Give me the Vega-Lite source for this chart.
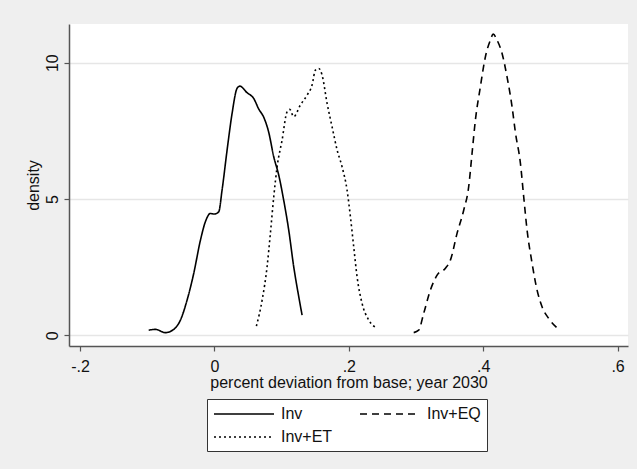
{
  "$schema": "https://vega.github.io/schema/vega-lite/v6.json",
  "width": 559,
  "height": 322,
  "autosize": {"type": "none"},
  "padding": {"left": 69, "top": 24, "right": 9, "bottom": 123},
  "background": "#efefef",
  "config": {
    "view": {"fill": "white", "stroke": null},
    "font": "Liberation Sans",
    "axis": {
      "domainColor": "#555555",
      "domainWidth": 1.5,
      "tickColor": "#555555",
      "tickWidth": 1.2,
      "tickSize": 5,
      "labelFont": "Liberation Sans",
      "labelFontSize": 16,
      "labelColor": "#111111",
      "titleFont": "Liberation Sans",
      "titleFontSize": 16,
      "titleFontWeight": "normal",
      "titleColor": "#111111",
      "gridColor": "#e6e6e6",
      "gridWidth": 1.5
    }
  },
  "data": {
    "values": [
      {"s": "Inv", "x": -0.0978, "y": 0.19},
      {"s": "Inv", "x": -0.0878, "y": 0.22},
      {"s": "Inv", "x": -0.0729, "y": 0.10},
      {"s": "Inv", "x": -0.0605, "y": 0.22},
      {"s": "Inv", "x": -0.0506, "y": 0.56},
      {"s": "Inv", "x": -0.0407, "y": 1.29},
      {"s": "Inv", "x": -0.0308, "y": 2.27},
      {"s": "Inv", "x": -0.0208, "y": 3.49},
      {"s": "Inv", "x": -0.0134, "y": 4.17},
      {"s": "Inv", "x": -0.0060, "y": 4.47},
      {"s": "Inv", "x": 0.0, "y": 4.45},
      {"s": "Inv", "x": 0.0064, "y": 4.53},
      {"s": "Inv", "x": 0.0114, "y": 5.33},
      {"s": "Inv", "x": 0.0189, "y": 6.80},
      {"s": "Inv", "x": 0.0263, "y": 8.14},
      {"s": "Inv", "x": 0.0337, "y": 9.06},
      {"s": "Inv", "x": 0.0377, "y": 9.14},
      {"s": "Inv", "x": 0.0486, "y": 8.90},
      {"s": "Inv", "x": 0.0585, "y": 8.69},
      {"s": "Inv", "x": 0.0660, "y": 8.30},
      {"s": "Inv", "x": 0.0734, "y": 8.00},
      {"s": "Inv", "x": 0.0808, "y": 7.45},
      {"s": "Inv", "x": 0.0883, "y": 6.55},
      {"s": "Inv", "x": 0.0957, "y": 5.88},
      {"s": "Inv", "x": 0.1031, "y": 4.96},
      {"s": "Inv", "x": 0.1106, "y": 3.86},
      {"s": "Inv", "x": 0.1180, "y": 2.52},
      {"s": "Inv", "x": 0.1255, "y": 1.42},
      {"s": "Inv", "x": 0.1305, "y": 0.74},
      {"s": "Inv+ET", "x": 0.0625, "y": 0.34},
      {"s": "Inv+ET", "x": 0.0710, "y": 1.29},
      {"s": "Inv+ET", "x": 0.0784, "y": 2.52},
      {"s": "Inv+ET", "x": 0.0833, "y": 3.74},
      {"s": "Inv+ET", "x": 0.0883, "y": 5.08},
      {"s": "Inv+ET", "x": 0.0933, "y": 6.18},
      {"s": "Inv+ET", "x": 0.1007, "y": 7.16},
      {"s": "Inv+ET", "x": 0.1081, "y": 8.20},
      {"s": "Inv+ET", "x": 0.1121, "y": 8.29},
      {"s": "Inv+ET", "x": 0.1180, "y": 8.02},
      {"s": "Inv+ET", "x": 0.1280, "y": 8.45},
      {"s": "Inv+ET", "x": 0.1379, "y": 8.81},
      {"s": "Inv+ET", "x": 0.1453, "y": 9.18},
      {"s": "Inv+ET", "x": 0.1503, "y": 9.73},
      {"s": "Inv+ET", "x": 0.1553, "y": 9.79},
      {"s": "Inv+ET", "x": 0.1602, "y": 9.55},
      {"s": "Inv+ET", "x": 0.1677, "y": 8.51},
      {"s": "Inv+ET", "x": 0.1751, "y": 7.65},
      {"s": "Inv+ET", "x": 0.1826, "y": 6.80},
      {"s": "Inv+ET", "x": 0.1900, "y": 6.18},
      {"s": "Inv+ET", "x": 0.1974, "y": 5.33},
      {"s": "Inv+ET", "x": 0.2024, "y": 4.35},
      {"s": "Inv+ET", "x": 0.2073, "y": 3.25},
      {"s": "Inv+ET", "x": 0.2123, "y": 2.15},
      {"s": "Inv+ET", "x": 0.2198, "y": 1.17},
      {"s": "Inv+ET", "x": 0.2297, "y": 0.56},
      {"s": "Inv+ET", "x": 0.2421, "y": 0.26},
      {"s": "Inv+EQ", "x": 0.2966, "y": 0.10},
      {"s": "Inv+EQ", "x": 0.3040, "y": 0.19},
      {"s": "Inv+EQ", "x": 0.3115, "y": 0.81},
      {"s": "Inv+EQ", "x": 0.3214, "y": 1.66},
      {"s": "Inv+EQ", "x": 0.3314, "y": 2.21},
      {"s": "Inv+EQ", "x": 0.3438, "y": 2.46},
      {"s": "Inv+EQ", "x": 0.3512, "y": 2.76},
      {"s": "Inv+EQ", "x": 0.3611, "y": 3.74},
      {"s": "Inv+EQ", "x": 0.3710, "y": 4.59},
      {"s": "Inv+EQ", "x": 0.3784, "y": 5.45},
      {"s": "Inv+EQ", "x": 0.3834, "y": 6.67},
      {"s": "Inv+EQ", "x": 0.3884, "y": 7.90},
      {"s": "Inv+EQ", "x": 0.3958, "y": 9.12},
      {"s": "Inv+EQ", "x": 0.4033, "y": 10.22},
      {"s": "Inv+EQ", "x": 0.4107, "y": 10.83},
      {"s": "Inv+EQ", "x": 0.4149, "y": 11.05},
      {"s": "Inv+EQ", "x": 0.4206, "y": 10.83},
      {"s": "Inv+EQ", "x": 0.4281, "y": 10.34},
      {"s": "Inv+EQ", "x": 0.4355, "y": 9.48},
      {"s": "Inv+EQ", "x": 0.4430, "y": 8.38},
      {"s": "Inv+EQ", "x": 0.4479, "y": 7.45},
      {"s": "Inv+EQ", "x": 0.4554, "y": 6.31},
      {"s": "Inv+EQ", "x": 0.4603, "y": 5.08},
      {"s": "Inv+EQ", "x": 0.4653, "y": 3.86},
      {"s": "Inv+EQ", "x": 0.4728, "y": 2.64},
      {"s": "Inv+EQ", "x": 0.4802, "y": 1.66},
      {"s": "Inv+EQ", "x": 0.4876, "y": 1.05},
      {"s": "Inv+EQ", "x": 0.4975, "y": 0.62},
      {"s": "Inv+EQ", "x": 0.5124, "y": 0.22}
    ]
  },
  "mark": {"type": "line", "color": "black", "strokeWidth": 1.6, "interpolate": "monotone"},
  "encoding": {
    "x": {
      "field": "x",
      "type": "quantitative",
      "scale": {"domain": [-0.2164, 0.6155], "nice": false, "zero": false},
      "axis": {
        "title": "percent deviation from base; year 2030",
        "values": [-0.2, 0, 0.2, 0.4, 0.6],
        "labelExpr": "datum.value < -0.1 ? '-.2' : datum.value < 0.1 ? '0' : datum.value < 0.3 ? '.2' : datum.value < 0.5 ? '.4' : '.6'",
        "grid": false,
        "labelPadding": 7,
        "titlePadding": 0
      }
    },
    "y": {
      "field": "y",
      "type": "quantitative",
      "scale": {"domain": [-0.39, 11.42], "nice": false, "zero": false},
      "axis": {
        "title": "density",
        "values": [0, 5, 10],
        "labelAngle": -90,
        "labelAlign": "center",
        "labelBaseline": "bottom",
        "labelPadding": 4,
        "titlePadding": 3,
        "grid": true
      }
    },
    "strokeDash": {
      "field": "s",
      "type": "nominal",
      "scale": {"domain": ["Inv", "Inv+EQ", "Inv+ET"], "range": [[1, 0], [7, 5], [2, 3]]},
      "legend": {
        "title": null,
        "orient": "none",
        "legendX": 138,
        "legendY": 375,
        "columns": 2,
        "direction": "horizontal",
        "symbolType": "M-1,0H6.5",
        "symbolSize": 256,
        "symbolStrokeWidth": 1.5,
        "symbolStrokeColor": "black",
        "labelFontSize": 16,
        "labelFont": "Liberation Sans",
        "labelColor": "#111111",
        "labelOffset": 50,
        "columnPadding": 24,
        "rowPadding": 6,
        "padding": 6,
        "strokeColor": "#333333",
        "fillColor": "white"
      }
    }
  }
}
